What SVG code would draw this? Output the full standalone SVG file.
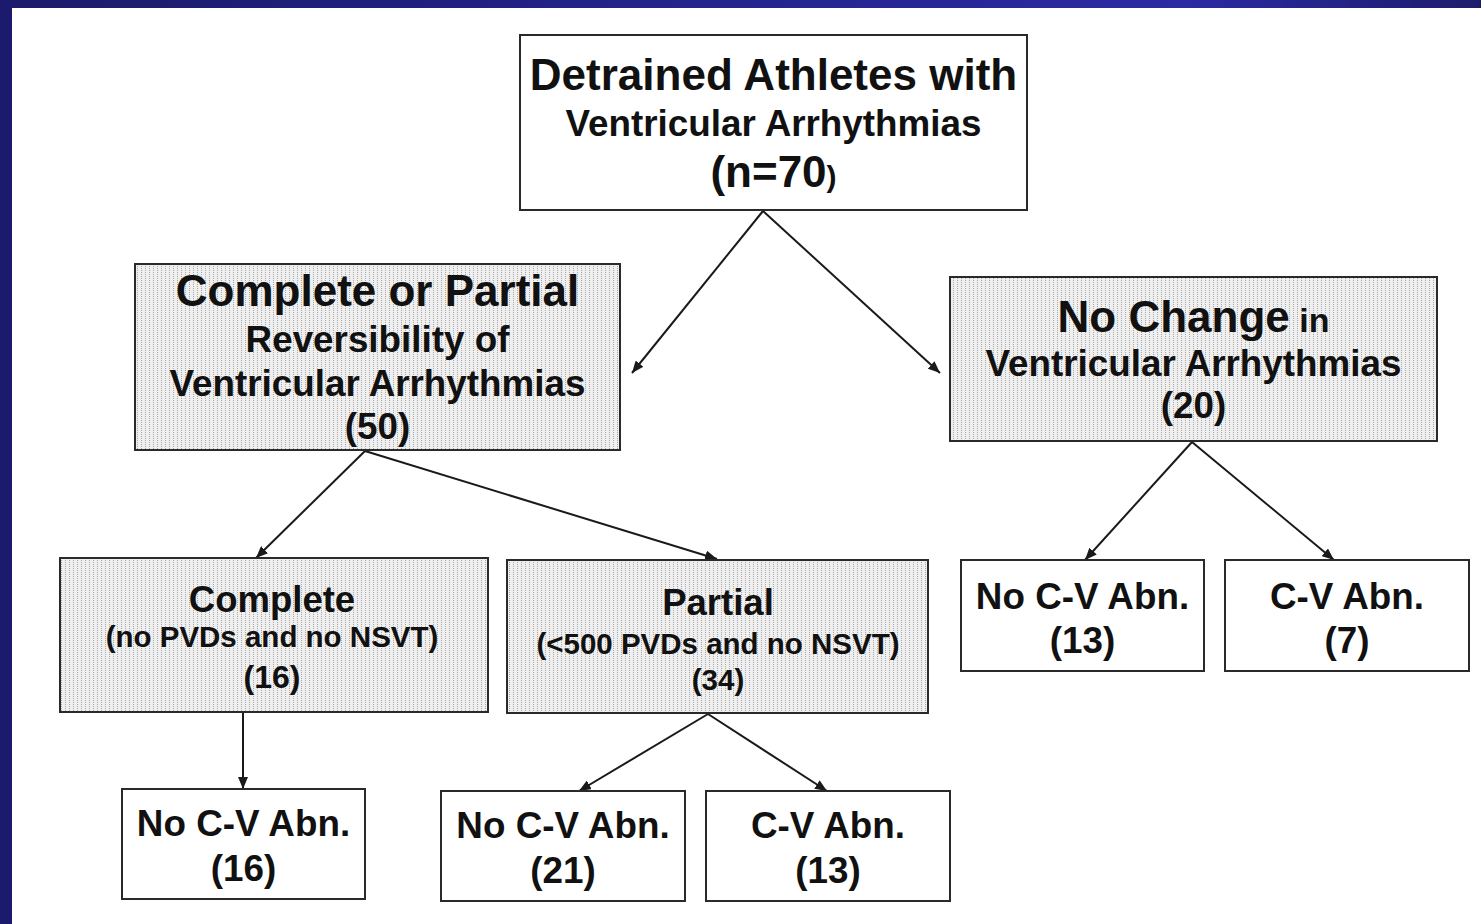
<svg xmlns="http://www.w3.org/2000/svg" width="1481" height="924" viewBox="0 0 1481 924">
<defs>
<linearGradient id="topbar" x1="0" y1="0" x2="1" y2="0">
<stop offset="0" stop-color="#1b1a6a"/>
<stop offset="0.8" stop-color="#2b2aa3"/>
<stop offset="1" stop-color="#1d1c6c"/>
</linearGradient>
<pattern id="dots" x="0" y="0" width="4" height="2" patternUnits="userSpaceOnUse">
<rect width="4" height="2" fill="#efefef"/>
<rect x="1" y="0" width="1" height="1" fill="#a8a8a8"/>
</pattern>
<marker id="arr" viewBox="0 0 12 10" refX="12" refY="5" markerWidth="12" markerHeight="10" markerUnits="userSpaceOnUse" orient="auto">
<path d="M0,0 L12,5 L0,10 z" fill="#1a1a1a"/>
</marker>
<style>
.box{fill:#ffffff;stroke:#2a2a2a;stroke-width:2}
.gbox{fill:url(#dots);stroke:#2a2a2a;stroke-width:2}
text{font-family:"Liberation Sans",Arial,Helvetica,sans-serif;font-weight:bold;fill:#111111;text-anchor:middle}
.conn line{stroke:#1a1a1a;stroke-width:2;marker-end:url(#arr)}
</style>
</defs>
<rect x="0" y="0" width="1481" height="924" fill="#ffffff"/>
<rect x="0" y="0" width="1481" height="8" fill="url(#topbar)"/>
<rect x="0" y="0" width="12" height="924" fill="#1b1a6c"/>

<g id="connectors" class="conn">
<line x1="763" y1="211" x2="632" y2="373"/>
<line x1="763" y1="211" x2="940" y2="373"/>
<line x1="365" y1="451" x2="256" y2="558"/>
<line x1="365" y1="451" x2="717" y2="559"/>
<line x1="1192" y1="442" x2="1085" y2="560"/>
<line x1="1192" y1="442" x2="1334" y2="560"/>
<line x1="243" y1="713" x2="243" y2="789"/>
<line x1="708" y1="714" x2="579" y2="791"/>
<line x1="708" y1="714" x2="827" y2="791"/>
</g>

<g id="n-root">
<rect class="box" x="520" y="35" width="507" height="175"/>
<text x="773.5" y="90" font-size="44">Detrained Athletes with</text>
<text x="773.5" y="136" font-size="36.8">Ventricular Arrhythmias</text>
<text x="773.5" y="187" font-size="44">(n=70<tspan font-size="30">)</tspan></text>
</g>

<g id="n-reversible">
<rect class="gbox" x="135" y="264" width="485" height="186"/>
<text x="377.5" y="306" font-size="44">Complete or Partial</text>
<text x="377.5" y="352" font-size="36.8">Reversibility of</text>
<text x="377.5" y="396" font-size="36.8">Ventricular Arrhythmias</text>
<text x="377.5" y="439" font-size="36.8">(50)</text>
</g>

<g id="n-nochange">
<rect class="gbox" x="950" y="277" width="487" height="164"/>
<text x="1193.5" y="332" font-size="44">No Change<tspan font-size="34"> in</tspan></text>
<text x="1193.5" y="376" font-size="36.8">Ventricular Arrhythmias</text>
<text x="1193.5" y="418" font-size="36.8">(20)</text>
</g>

<g id="n-complete">
<rect class="gbox" x="60" y="558" width="428" height="154"/>
<text x="272" y="612" font-size="36.5">Complete</text>
<text x="272" y="647" font-size="29.5">(no PVDs and no NSVT)</text>
<text x="272" y="688" font-size="32">(16)</text>
</g>

<g id="n-partial">
<rect class="gbox" x="507" y="560" width="421" height="153"/>
<text x="718" y="615" font-size="36.5">Partial</text>
<text x="718" y="654" font-size="29.5">(&lt;500 PVDs and no NSVT)</text>
<text x="718" y="690" font-size="29.5">(34)</text>
</g>

<g id="n-nc-nocv">
<rect class="box" x="961" y="560" width="243" height="111"/>
<text x="1082.5" y="609" font-size="36.8">No C-V Abn.</text>
<text x="1082.5" y="653" font-size="36.8">(13)</text>
</g>

<g id="n-nc-cv">
<rect class="box" x="1225" y="560" width="244" height="111"/>
<text x="1347" y="609" font-size="36.8">C-V Abn.</text>
<text x="1347" y="653" font-size="36.8">(7)</text>
</g>

<g id="n-c-nocv">
<rect class="box" x="122" y="789" width="243" height="110"/>
<text x="243.5" y="836" font-size="36.8">No C-V Abn.</text>
<text x="243.5" y="881" font-size="36.8">(16)</text>
</g>

<g id="n-p-nocv">
<rect class="box" x="441" y="791" width="244" height="110"/>
<text x="563" y="838" font-size="36.8">No C-V Abn.</text>
<text x="563" y="883" font-size="36.8">(21)</text>
</g>

<g id="n-p-cv">
<rect class="box" x="706" y="791" width="244" height="110"/>
<text x="828" y="838" font-size="36.8">C-V Abn.</text>
<text x="828" y="883" font-size="36.8">(13)</text>
</g>
</svg>
